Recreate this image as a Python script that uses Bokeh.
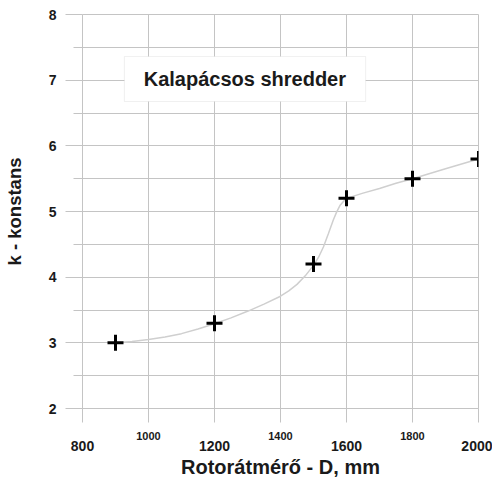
from bokeh.plotting import figure
from bokeh.models import (Range1d, LinearAxis, FixedTicker, BoxAnnotation, Label, Grid)
from bokeh.embed import file_html
from bokeh.resources import INLINE

# measured points
diameter = [900, 1200, 1500, 1600, 1800, 2000]
k_const = [3.0, 3.3, 4.2, 5.2, 5.5, 5.8]

# smooth trend curve
curve_d = [900, 950, 1000, 1050, 1100, 1150, 1200, 1250, 1300, 1350, 1400, 1425, 1450, 1475,
           1500, 1515, 1530, 1545, 1560, 1570, 1580, 1590, 1600, 1650, 1700, 1750, 1800, 1900, 2000]
curve_k = [3.0, 3.02, 3.05, 3.09, 3.14, 3.21, 3.29, 3.38, 3.48, 3.59, 3.71, 3.79, 3.89, 4.02,
           4.18, 4.3, 4.46, 4.66, 4.87, 4.99, 5.09, 5.15, 5.2, 5.28, 5.35, 5.43, 5.5, 5.65, 5.8]

x_ticks_big = [800, 1200, 1600, 2000]
x_ticks_small = [1000, 1400, 1800]
x_ticks_all = [800, 1000, 1200, 1400, 1600, 1800, 2000]
y_ticks = [2, 3, 4, 5, 6, 7, 8]
y_minor = [2.5, 3.5, 4.5, 5.5, 6.5, 7.5]

title_text = "Kalapácsos shredder"
x_label = "Rotorátmérő - D, mm"
y_label = "k - konstans"

FONT = "Liberation Sans"
GRID = "#c4c4c4"
TXT = "#1a1a1a"

p = figure(frame_width=396, frame_height=394, output_backend="svg", toolbar_location=None,
           x_range=Range1d(800, 2000), y_range=Range1d(2, 8),
           x_axis_location=None, y_axis_location=None,
           min_border_left=75, min_border_top=14, min_border_right=14, min_border_bottom=55)
p.outline_line_color = GRID
p.background_fill_color = "white"
p.border_fill_color = "white"

# inner left axis: short tick marks at half units
ym = LinearAxis(ticker=FixedTicker(ticks=y_minor))
ym.major_label_overrides = {t: "" for t in y_minor}
ym.axis_line_color = None
ym.major_tick_line_color = GRID
ym.major_tick_out = 9
ym.major_tick_in = 0
ym.minor_tick_line_color = None
ym.major_label_standoff = 0
p.add_layout(ym, "left")

# outer left axis: integer ticks reaching back to the frame, labels
yax = LinearAxis(ticker=FixedTicker(ticks=y_ticks))
yax.axis_line_color = None
yax.major_tick_line_color = GRID
yax.minor_tick_line_color = None
yax.major_tick_out = 8
yax.major_tick_in = 9
yax.major_label_standoff = 9
yax.major_label_text_font = FONT
yax.major_label_text_font_style = "bold"
yax.major_label_text_font_size = "14px"
yax.major_label_text_color = TXT
yax.axis_label = y_label
yax.axis_label_text_font = FONT
yax.axis_label_text_font_style = "bold"
yax.axis_label_text_font_size = "18.5px"
yax.axis_label_text_color = TXT
yax.axis_label_standoff = 21
p.add_layout(yax, "left")

# x axis with small labels and all tick marks
xs = LinearAxis(ticker=FixedTicker(ticks=x_ticks_all))
xs.major_label_overrides = {t: "" for t in x_ticks_big}
xs.axis_line_color = GRID
xs.major_tick_line_color = GRID
xs.major_tick_out = 14
xs.major_tick_in = 0
xs.minor_tick_line_color = None
xs.major_label_standoff = 9
xs.major_label_text_font = FONT
xs.major_label_text_font_style = "bold"
xs.major_label_text_font_size = "11px"
xs.major_label_text_color = TXT
p.add_layout(xs, "below")

# x axis with large labels
xb = LinearAxis(ticker=FixedTicker(ticks=x_ticks_big))
xb.axis_line_color = None
xb.major_tick_line_color = None
xb.minor_tick_line_color = None
xb.major_tick_out = 0
xb.major_tick_in = 0
xb.major_label_standoff = -2
xb.major_label_text_font = FONT
xb.major_label_text_font_style = "bold"
xb.major_label_text_font_size = "14px"
xb.major_label_text_color = TXT
xb.axis_label = x_label
xb.axis_label_text_font = FONT
xb.axis_label_text_font_style = "bold"
xb.axis_label_text_font_size = "20px"
xb.axis_label_text_color = TXT
xb.axis_label_standoff = 2
p.add_layout(xb, "below")

# grids
p.xgrid.ticker = FixedTicker(ticks=x_ticks_all)
p.xgrid.grid_line_color = GRID
p.ygrid.ticker = FixedTicker(ticks=y_ticks)
p.ygrid.grid_line_color = GRID
p.add_layout(Grid(dimension=1, ticker=FixedTicker(ticks=y_minor), grid_line_color=GRID))

# trend curve and points
p.line(curve_d, curve_k, line_color="#cfcfcf", line_width=1.5)
p.scatter(diameter, k_const, marker="cross", size=16, line_width=3, line_color="black")

# title box
p.add_layout(BoxAnnotation(left=927, right=1658, bottom=6.675, top=7.36,
                           fill_color="white", fill_alpha=1.0,
                           line_color="#cccccc", line_width=1))
p.add_layout(Label(x=1292, y=7.02, text=title_text, text_align="center",
                   text_baseline="middle", text_font=FONT, text_font_style="bold",
                   text_font_size="20px", text_color=TXT))

open("out.html", "w").write(file_html(p, INLINE))
